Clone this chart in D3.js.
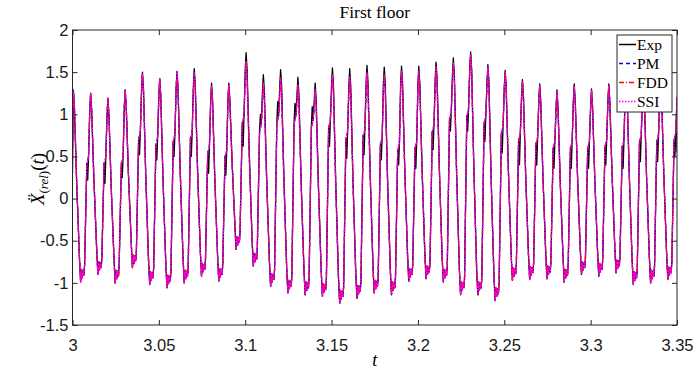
<!DOCTYPE html>
<html><head><meta charset="utf-8">
<script src="https://cdn.jsdelivr.net/npm/d3@7"></script>
<style>body{margin:0;background:#fff;} svg{display:block}</style>
</head><body>
<svg id="c" width="694" height="372"></svg>
<script>
// ---------- data ----------
const xTicks = [3, 3.05, 3.1, 3.15, 3.2, 3.25, 3.3, 3.35];
const xTickLabels = ["3", "3.05", "3.1", "3.15", "3.2", "3.25", "3.3", "3.35"];
const yTicks = [-1.5, -1, -0.5, 0, 0.5, 1, 1.5, 2];
const yTickLabels = ["-1.5", "-1", "-0.5", "0", "0.5", "1", "1.5", "2"];
const seriesNames = ["Exp", "PM", "FDD", "SSI"];

// time of each main peak
const peakT = [3.0005,3.0105,3.0205,3.0305,3.0405,3.0505,3.0605,3.0705,3.0805,3.0905,
               3.1005,3.1105,3.1205,3.1305,3.1405,3.1505,3.1605,3.1705,3.1805,3.1905,
               3.2005,3.2105,3.2205,3.2305,3.2405,3.2505,3.2605,3.2705,3.2805,3.2905,
               3.3005,3.3105,3.3205,3.3305,3.3405];
// peak heights
const expPeak   = [1.29,1.25,1.19,1.29,1.50,1.42,1.51,1.54,1.37,1.37,1.73,1.47,1.53,1.44,1.37,1.55,1.54,1.58,1.56,1.57,
                   1.57,1.62,1.67,1.74,1.59,1.52,1.41,1.36,1.29,1.36,1.30,1.36,1.45,1.40,1.40];
const modelPeak = [1.29,1.25,1.19,1.29,1.48,1.42,1.50,1.49,1.33,1.35,1.63,1.37,1.43,1.35,1.29,1.47,1.45,1.49,1.47,1.51,
                   1.51,1.56,1.61,1.71,1.55,1.50,1.39,1.34,1.27,1.33,1.28,1.34,1.43,1.38,1.38];
// trough minimum after each peak
const troughVal = [-0.99,-0.90,-1.00,-0.82,-1.02,-1.06,-1.00,-0.92,-0.98,-0.60,-0.80,-1.04,-1.12,-1.14,-1.16,-1.24,-1.18,-1.12,-1.14,-0.98,
                   -0.95,-0.99,-1.14,-1.14,-1.21,-0.97,-0.96,-0.95,-0.99,-0.90,-0.92,-0.88,-1.02,-1.00,-0.96];
// shoulder (kink) on the rising edge before the next peak
const modelKink = [0.42,0.42,0.42,0.72,0.65,0.68,0.72,0.55,0.50,0.90,0.80,0.90,0.90,0.85,0.85,0.72,0.75,0.65,0.58,0.60,
                   0.80,0.95,0.98,0.90,0.78,0.70,0.65,0.60,0.60,0.60,0.62,0.62,0.68,0.68,0.70];
const expKink   = [0.22,0.18,0.25,0.52,0.46,0.50,0.50,0.30,0.28,0.62,1.00,1.15,1.13,1.09,0.62,0.48,0.52,0.46,0.40,0.36,
                   0.58,0.80,0.80,0.68,0.54,0.40,0.40,0.36,0.36,0.36,0.40,0.36,0.44,0.44,0.50];
// values at the first and last instants
const expEnds   = [0.30, 0.55];
const modelEnds = [0.60, 0.78];
// shape of one cycle: time after the peak (ms)
const shapeMs = [0, 0.6, 1.9, 3.5, 4.2, 4.7, 5.1, 5.6, 6.1, 6.5, 7.8, 8.3, 8.8, 9.5];

// ---------- build the point lists ----------
function buildSeries(peaks, kinks, spikes, ends) {
  const pts = [[3.0, ends[0]]];
  for (let k = 0; k < peakT.length; k++) {
    const t = peakT[k], P = peaks[k], T = troughVal[k], K = kinks[k];
    const Pn = k + 1 < peaks.length ? peaks[k + 1] : P;
    const vals = [P, P - 0.2, (P + T + 0.1) / 2, T + 0.3, T, T + 0.15, T + 0.05, T + 0.14, T + 0.08, T + 0.2,
                  K, spikes ? spikes[k] : K + 0.03, K + 0.08, Pn - 0.2];
    shapeMs.forEach((ms, i) => {
      const tt = t + ms / 1000;
      if (tt <= 3.35) pts.push([tt, vals[i]]);
    });
  }
  pts.push([3.35, ends[1]]);
  return pts;
}
const expData = buildSeries(expPeak, modelKink, expKink, expEnds);
const pmData  = buildSeries(modelPeak, modelKink, null, modelEnds);
const fddData = buildSeries(modelPeak, modelKink, null, modelEnds);
const ssiData = buildSeries(modelPeak, modelKink, null, modelEnds);

// ---------- drawing ----------
const svg = d3.select("#c");
const L = 72.5, R = 677, T0 = 30, B = 325;
const x = d3.scaleLinear().domain([3, 3.35]).range([L, R]);
const y = d3.scaleLinear().domain([-1.5, 2]).range([B, T0]);
const axisColor = "#262626";
const sans = "'Liberation Sans', Arial, sans-serif";
const serif = "'Liberation Serif', 'Times New Roman', serif";

svg.append("defs").append("clipPath").attr("id", "clip")
  .append("rect").attr("x", L).attr("y", T0).attr("width", R - L).attr("height", B - T0);

const line = d3.line().x(d => x(d[0])).y(d => y(d[1]));
const g = svg.append("g").attr("clip-path", "url(#clip)");
const styles = [
  {data: expData, color: "#000000", dash: null, w: 1.3},
  {data: pmData,  color: "#0000ff", dash: "4,3", w: 1.2},
  {data: fddData, color: "#ff0000", dash: "5,2,1,2", w: 1.2},
  {data: ssiData, color: "#ff00ff", dash: "1.5,1.5", w: 1.3}
];
styles.forEach(s => {
  g.append("path").datum(s.data).attr("d", line)
    .attr("fill", "none").attr("stroke", s.color).attr("stroke-width", s.w)
    .attr("stroke-dasharray", s.dash).attr("stroke-linejoin", "round");
});

// axes
function styleAxis(sel) {
  sel.select(".domain").remove();
  sel.selectAll(".tick line").attr("stroke", axisColor);
  sel.selectAll(".tick text").attr("fill", "#1a1a1a").style("font-family", sans).style("font-size", "16.5px");
}
svg.append("g").attr("transform", `translate(0,${B})`)
  .call(d3.axisBottom(x).tickValues(xTicks).tickFormat((d, i) => xTickLabels[i]).tickSizeInner(-5).tickSizeOuter(0).tickPadding(14))
  .call(styleAxis);
svg.append("g").attr("transform", `translate(0,${T0})`)
  .call(d3.axisTop(x).tickValues(xTicks).tickFormat("").tickSizeInner(-5).tickSizeOuter(0))
  .call(styleAxis);
svg.append("g").attr("transform", `translate(${L},0)`)
  .call(d3.axisLeft(y).tickValues(yTicks).tickFormat((d, i) => yTickLabels[i]).tickSizeInner(-5).tickSizeOuter(0).tickPadding(4))
  .call(styleAxis);
svg.append("g").attr("transform", `translate(${R},0)`)
  .call(d3.axisRight(y).tickValues(yTicks).tickFormat("").tickSizeInner(-5).tickSizeOuter(0))
  .call(styleAxis);
svg.append("rect").attr("x", L).attr("y", T0).attr("width", R - L).attr("height", B - T0)
  .attr("fill", "none").attr("stroke", axisColor).attr("stroke-width", 1);

// title and axis labels
svg.append("text").attr("x", (L + R) / 2).attr("y", 18).attr("text-anchor", "middle")
  .style("font-family", serif).style("font-size", "17.5px").attr("fill", "#000").text("First floor");
svg.append("text").attr("x", (L + R) / 2).attr("y", 366).attr("text-anchor", "middle")
  .style("font-family", serif).style("font-size", "18px").style("font-style", "italic").attr("fill", "#000").text("t");
const yl = svg.append("text").attr("transform", "translate(44,179) rotate(-90)").attr("text-anchor", "middle")
  .style("font-family", serif).style("font-size", "19px").attr("fill", "#000");
yl.append("tspan").style("font-style", "italic").text("X\u0308");
yl.append("tspan").attr("dy", 4).style("font-size", "13px").text("(");
yl.append("tspan").style("font-size", "13px").style("font-style", "italic").text("rel");
yl.append("tspan").style("font-size", "13px").text(")");
yl.append("tspan").attr("dy", -4).text("(");
yl.append("tspan").style("font-style", "italic").text("t");
yl.append("tspan").text(")");

// legend
const lg = svg.append("g");
lg.append("rect").attr("x", 617).attr("y", 35).attr("width", 55).attr("height", 77)
  .attr("fill", "#fff").attr("stroke", axisColor).attr("stroke-width", 1);
styles.forEach((s, i) => {
  const yy = 44.5 + i * 19;
  lg.append("line").attr("x1", 619).attr("x2", 636).attr("y1", yy).attr("y2", yy)
    .attr("stroke", s.color).attr("stroke-width", 1.5).attr("stroke-dasharray", s.dash);
  lg.append("text").attr("x", 637).attr("y", yy).attr("dy", "0.33em")
    .style("font-family", serif).style("font-size", "15.5px").attr("fill", "#000").text(seriesNames[i]);
});
</script>
</body></html>
